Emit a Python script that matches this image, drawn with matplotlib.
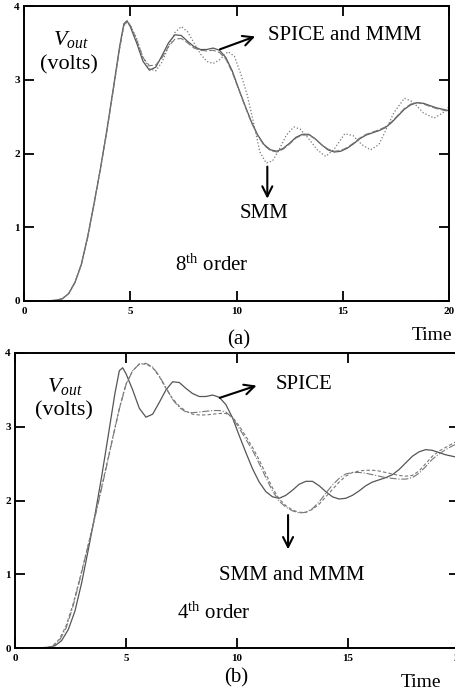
import numpy as np
import matplotlib
matplotlib.use("Agg")
import matplotlib.pyplot as plt

plt.rcParams['font.family'] = ['Liberation Serif', 'DejaVu Serif']
plt.rcParams['mathtext.fontset'] = 'custom'
plt.rcParams['mathtext.rm'] = 'Liberation Serif'
plt.rcParams['mathtext.it'] = 'Liberation Serif:italic'

# SPICE response (same in both panels)
spice_t = [0, 1.0, 1.5, 1.8, 2.1, 2.4, 2.7, 3.0, 3.3, 3.6, 3.9, 4.2, 4.5, 4.7, 4.85,
           5.0, 5.3, 5.6, 5.9, 6.2, 6.5, 6.8, 7.1, 7.4, 7.7, 8.0, 8.3, 8.6, 8.9,
           9.2, 9.5, 9.8, 10.1, 10.4, 10.7, 11.0, 11.3, 11.6, 11.9, 12.2, 12.5,
           12.8, 13.1, 13.4, 13.7, 14.0, 14.3, 14.6, 14.9, 15.2, 15.5, 15.8, 16.1,
           16.4, 16.7, 17.0, 17.3, 17.6, 17.9, 18.2, 18.5, 18.8, 19.1, 19.4, 19.7, 20.0]
spice_v = [0, 0, 0.01, 0.03, 0.1, 0.25, 0.5, 0.88, 1.33, 1.8, 2.32, 2.88, 3.45, 3.76, 3.80,
           3.72, 3.5, 3.25, 3.13, 3.17, 3.33, 3.5, 3.61, 3.6, 3.52, 3.45, 3.41, 3.41, 3.43,
           3.4, 3.3, 3.12, 2.88, 2.65, 2.43, 2.25, 2.12, 2.05, 2.03, 2.07, 2.14,
           2.22, 2.26, 2.26, 2.2, 2.12, 2.05, 2.02, 2.03, 2.07, 2.13, 2.2, 2.25,
           2.28, 2.31, 2.35, 2.42, 2.51, 2.6, 2.66, 2.69, 2.68, 2.65, 2.62, 2.6, 2.58]

# 8th order MMM (almost on top of SPICE)
mmm8_v = [0, 0, 0.01, 0.03, 0.1, 0.26, 0.5, 0.87, 1.32, 1.8, 2.3, 2.86, 3.42, 3.74, 3.79,
          3.74, 3.54, 3.3, 3.19, 3.2, 3.3, 3.45, 3.55, 3.56, 3.5, 3.43, 3.4, 3.39, 3.4,
          3.37, 3.28, 3.1, 2.87, 2.64, 2.42, 2.24, 2.11, 2.04, 2.02, 2.06, 2.13,
          2.21, 2.25, 2.25, 2.2, 2.12, 2.06, 2.03, 2.04, 2.08, 2.14, 2.21, 2.26,
          2.29, 2.32, 2.36, 2.43, 2.52, 2.61, 2.67, 2.69, 2.67, 2.64, 2.61, 2.59, 2.57]

# 8th order SMM
smm8_t = [0, 1.0, 1.5, 1.8, 2.1, 2.4, 2.7, 3.0, 3.3, 3.6, 3.9, 4.2, 4.5, 4.7, 4.85,
          5.0, 5.3, 5.6, 5.9, 6.2, 6.5, 6.8, 7.1, 7.4, 7.7, 8.0, 8.3, 8.6, 8.9,
          9.2, 9.6, 9.9, 10.2, 10.5, 10.8, 11.1, 11.4, 11.7, 12.0, 12.35, 12.7,
          13.0, 13.4, 13.8, 14.2, 14.6, 15.1, 15.5, 15.9, 16.3, 16.7, 17.0, 17.4,
          17.9, 18.3, 18.8, 19.3, 19.7, 20.0]
smm8_v = [0, 0, 0.01, 0.03, 0.1, 0.25, 0.49, 0.86, 1.31, 1.79, 2.3, 2.86, 3.43, 3.73, 3.78,
          3.74, 3.56, 3.3, 3.15, 3.12, 3.24, 3.45, 3.64, 3.72, 3.65, 3.5, 3.35, 3.25, 3.22,
          3.27, 3.38, 3.32, 3.08, 2.8, 2.42, 2.02, 1.87, 1.9, 2.05, 2.25, 2.36,
          2.33, 2.2, 2.05, 1.96, 2.06, 2.27, 2.24, 2.12, 2.05, 2.12, 2.3, 2.55,
          2.75, 2.7, 2.55, 2.48, 2.55, 2.63]

# 4th order SMM and MMM
red_t = [0, 1.4, 1.7, 2.0, 2.3, 2.6, 2.9, 3.2, 3.5, 3.8, 4.1, 4.4, 4.7, 5.0, 5.3, 5.6,
         5.9, 6.2, 6.5, 6.8, 7.1, 7.4, 7.7, 8.0, 8.3, 8.6, 8.9, 9.2, 9.5, 9.8, 10.1,
         10.4, 10.7, 11.0, 11.3, 11.6, 11.9, 12.2, 12.5, 12.8, 13.1, 13.4, 13.7,
         14.0, 14.3, 14.6, 14.9, 15.2, 15.5, 15.8, 16.1, 16.4, 16.7, 17.0, 17.3,
         17.6, 17.9, 18.2, 18.5, 18.8, 19.1, 19.4, 19.7, 20.0]
smm4_v = [0, 0, 0.03, 0.12, 0.3, 0.58, 0.92, 1.28, 1.65, 2.05, 2.45, 2.85, 3.25, 3.58,
          3.76, 3.85, 3.85, 3.8, 3.68, 3.52, 3.38, 3.28, 3.21, 3.17, 3.16, 3.16, 3.17,
          3.18, 3.18, 3.13, 3.01, 2.87, 2.72, 2.55, 2.36, 2.17, 2.02, 1.93, 1.87,
          1.84, 1.84, 1.88, 1.95, 2.05, 2.15, 2.25, 2.33, 2.38, 2.4, 2.41, 2.41,
          2.4, 2.38, 2.36, 2.34, 2.33, 2.34, 2.4, 2.5, 2.6, 2.67, 2.72, 2.77, 2.82]
mmm4_v = [0, 0, 0.02, 0.1, 0.27, 0.55, 0.9, 1.27, 1.64, 2.03, 2.43, 2.84, 3.24, 3.57,
          3.76, 3.85, 3.86, 3.81, 3.69, 3.53, 3.37, 3.26, 3.2, 3.19, 3.2, 3.21, 3.22,
          3.22, 3.2, 3.12, 2.98, 2.83, 2.68, 2.5, 2.31, 2.13, 1.99, 1.91, 1.86,
          1.83, 1.84, 1.89, 1.98, 2.1, 2.21, 2.3, 2.36, 2.38, 2.38, 2.37, 2.35,
          2.33, 2.31, 2.3, 2.29, 2.29, 2.31, 2.37, 2.46, 2.56, 2.63, 2.69, 2.74, 2.78]

x_ticks = [0, 5, 10, 15, 20]
y_ticks = [0, 1, 2, 3, 4]

line_col = '#555555'

fig = plt.figure(figsize=(4.56, 6.96), dpi=100)
ax1 = fig.add_axes([24 / 456, 395 / 696, 425 / 456, 295 / 696])
ax2 = fig.add_axes([15 / 456, 48 / 696, 444 / 456, 295 / 696])


def style_axes(ax):
    ax.set_xlim(0, 20)
    ax.set_ylim(0, 4)
    ax.set_xticks(x_ticks)
    ax.set_yticks(y_ticks)
    ax.set_xticklabels([str(v) for v in x_ticks], fontsize=8, fontweight='bold')
    ax.set_yticklabels([str(v) for v in y_ticks], fontsize=8, fontweight='bold')
    ax.tick_params(direction='in', length=7, width=1.3, top=True, right=True,
                   pad=4)
    ax.tick_params(axis='y', pad=3)
    for s in ax.spines.values():
        s.set_linewidth(1.4)


arrow = dict(arrowstyle='->', lw=1.5, color='black', mutation_scale=18)

# panel (a)
ax1.plot(spice_t, spice_v, '-', color=line_col, lw=0.9)
ax1.plot(spice_t, mmm8_v, '--', color='#777777', lw=0.8, dashes=(6, 2))
ax1.plot(smm8_t, smm8_v, ':', color='#777777', lw=0.9)
style_axes(ax1)
ax1.text(2.2, 3.55, '$V_{out}$', fontsize=16, ha='center', va='center')
ax1.text(2.1, 3.2, '(volts)', fontsize=16, ha='center', va='center')
ax1.annotate('', xy=(11.0, 3.6), xytext=(9.1, 3.4), arrowprops=arrow)
ax1.text(11.5, 3.6, 'SPICE and MMM', fontsize=15, ha='left', va='center')
ax1.annotate('', xy=(11.45, 1.35), xytext=(11.45, 1.86), arrowprops=arrow)
ax1.text(11.3, 1.19, 'SMM', fontsize=15, ha='center', va='center')
ax1.text(7.1, 0.49, '8$^{\\rm th}$ order', fontsize=15, ha='left', va='center')
ax1.text(10.1, -0.53, '(a)', fontsize=15, ha='center', va='center', clip_on=False)
ax1.text(19.2, -0.47, 'Time', fontsize=14, ha='center', va='center', clip_on=False)

# panel (b)
ax2.plot(spice_t, spice_v, '-', color=line_col, lw=0.9)
ax2.plot(red_t, smm4_v, '--', color='#777777', lw=0.8, dashes=(3, 2))
ax2.plot(red_t, mmm4_v, '-.', color='#777777', lw=0.8)
style_axes(ax2)
ax2.text(2.25, 3.55, '$V_{out}$', fontsize=16, ha='center', va='center')
ax2.text(2.2, 3.22, '(volts)', fontsize=16, ha='center', va='center')
ax2.annotate('', xy=(11.0, 3.57), xytext=(9.1, 3.38), arrowprops=arrow)
ax2.text(11.75, 3.57, 'SPICE', fontsize=15, ha='left', va='center')
ax2.annotate('', xy=(12.3, 1.3), xytext=(12.3, 1.84), arrowprops=arrow)
ax2.text(9.2, 0.98, 'SMM and MMM', fontsize=15, ha='left', va='center')
ax2.text(7.3, 0.47, '4$^{\\rm th}$ order', fontsize=15, ha='left', va='center')
ax2.text(9.95, -0.41, '(b)', fontsize=15, ha='center', va='center', clip_on=False)
ax2.text(18.3, -0.47, 'Time', fontsize=14, ha='center', va='center', clip_on=False)

fig.savefig('out.png', dpi=100)
